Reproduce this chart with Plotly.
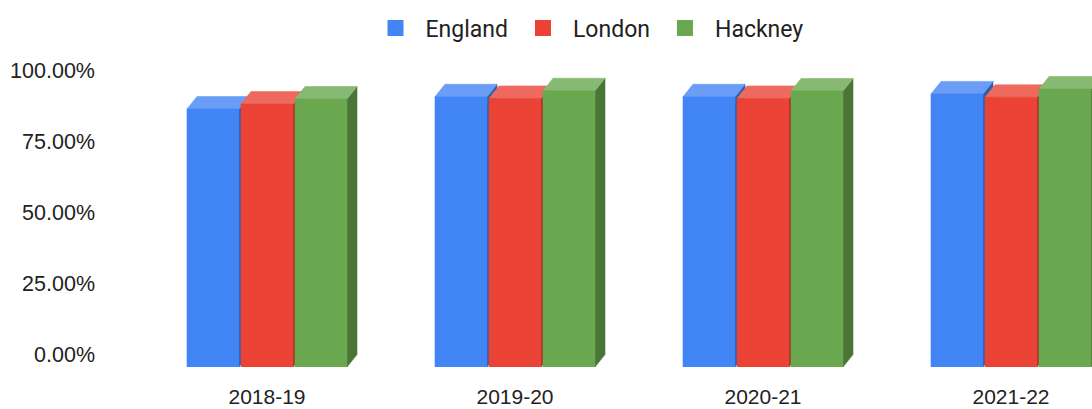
import plotly.graph_objects as go

# ---- data ----
categories = ["2018-19", "2019-20", "2020-21", "2021-22"]
england = [0.907, 0.950, 0.950, 0.960]
london = [0.924, 0.944, 0.944, 0.948]
hackney = [0.942, 0.971, 0.970, 0.977]
series_names = ["England", "London", "Hackney"]
y_ticks = [0, 0.25, 0.5, 0.75, 1.0]

# ---- styles ----
front_colors = ["#4285F4", "#EA4335", "#6AA84F"]
top_colors = ["#6A9EF6", "#EE6A5F", "#88B972"]
side_colors = ["#2E5DAB", "#A32F26", "#4A7537"]

PX_PER_CAT = 248.0
FIRST_CENTER_PX = 267.0
L_MARGIN, T_MARGIN, B_MARGIN = 100, 55, 42
W, H = 1092, 409
PX_PER_UNIT_Y = 284.5
plot_h = H - T_MARGIN - B_MARGIN
plot_w = W - L_MARGIN
y_top = plot_h / PX_PER_UNIT_Y

half_w = 26 / PX_PER_CAT
step = 54 / PX_PER_CAT
dx = 10 / PX_PER_CAT
dy = 12.5 / PX_PER_UNIT_Y

x_left = (L_MARGIN - FIRST_CENTER_PX) / PX_PER_CAT
x_right = (W - FIRST_CENTER_PX) / PX_PER_CAT

fig = go.Figure()

all_series = [england, london, hackney]
for k, vals in enumerate(all_series):
    sx, sy, tx, ty, fx, fy = [], [], [], [], [], []
    for i, v in enumerate(vals):
        c = i + (k - 1) * step
        xl, xr = c - half_w, c + half_w
        # side face
        sx += [xr, xr, xr + dx, xr + dx, xr, None]
        sy += [0, v, v + dy, dy, 0, None]
        # top face
        tx += [xl, xr, xr + dx, xl + dx, xl, None]
        ty += [v, v, v + dy, v + dy, v, None]
        # front face
        fx += [xl, xr, xr, xl, xl, None]
        fy += [0, 0, v, v, 0, None]
    for xs, ys, col in [(sx, sy, side_colors[k]), (tx, ty, top_colors[k]), (fx, fy, front_colors[k])]:
        fig.add_trace(go.Scatter(
            x=xs, y=ys, mode="lines", fill="toself", fillcolor=col,
            line=dict(width=0.6, color=col), showlegend=False, hoverinfo="skip",
        ))

# legend entries
for k, name in enumerate(series_names):
    fig.add_trace(go.Scatter(
        x=[None], y=[None], mode="markers", name=name,
        marker=dict(symbol="square", size=18, color=front_colors[k]),
    ))

# invisible trace to carry the back-wall y axis
fig.add_trace(go.Scatter(x=[None], y=[None], yaxis="y2", showlegend=False))

fig.update_layout(
    width=W, height=H,
    margin=dict(l=L_MARGIN, r=0, t=T_MARGIN, b=B_MARGIN),
    plot_bgcolor="white", paper_bgcolor="white",
    font=dict(family="Liberation Sans, Arial, sans-serif", size=21.5, color="#222222"),
    xaxis=dict(
        range=[x_left, x_right], tickmode="array", tickvals=list(range(len(categories))),
        ticktext=categories, showgrid=False, zeroline=False, showline=False,
        ticklabelstandoff=15, tickfont=dict(size=21), automargin=False,
    ),
    yaxis=dict(range=[0, y_top], showgrid=False, zeroline=False, showticklabels=False,
               automargin=False),
    yaxis2=dict(
        range=[-dy, y_top - dy], overlaying="y", side="left", anchor="x",
        tickmode="array", tickvals=y_ticks, tickformat=".2%",
        showgrid=False, zeroline=False, tickfont=dict(size=21.5),
        ticklabelstandoff=4, automargin=False,
    ),
    legend=dict(
        orientation="h", x=0.5 - 9 / plot_w, xanchor="center",
        y=1 + (T_MARGIN - 28) / plot_h, yanchor="middle",
        font=dict(family="Roboto, sans-serif", size=23, color="#222222"),
        itemwidth=50,
    ),
)

fig.write_html("out.html")
